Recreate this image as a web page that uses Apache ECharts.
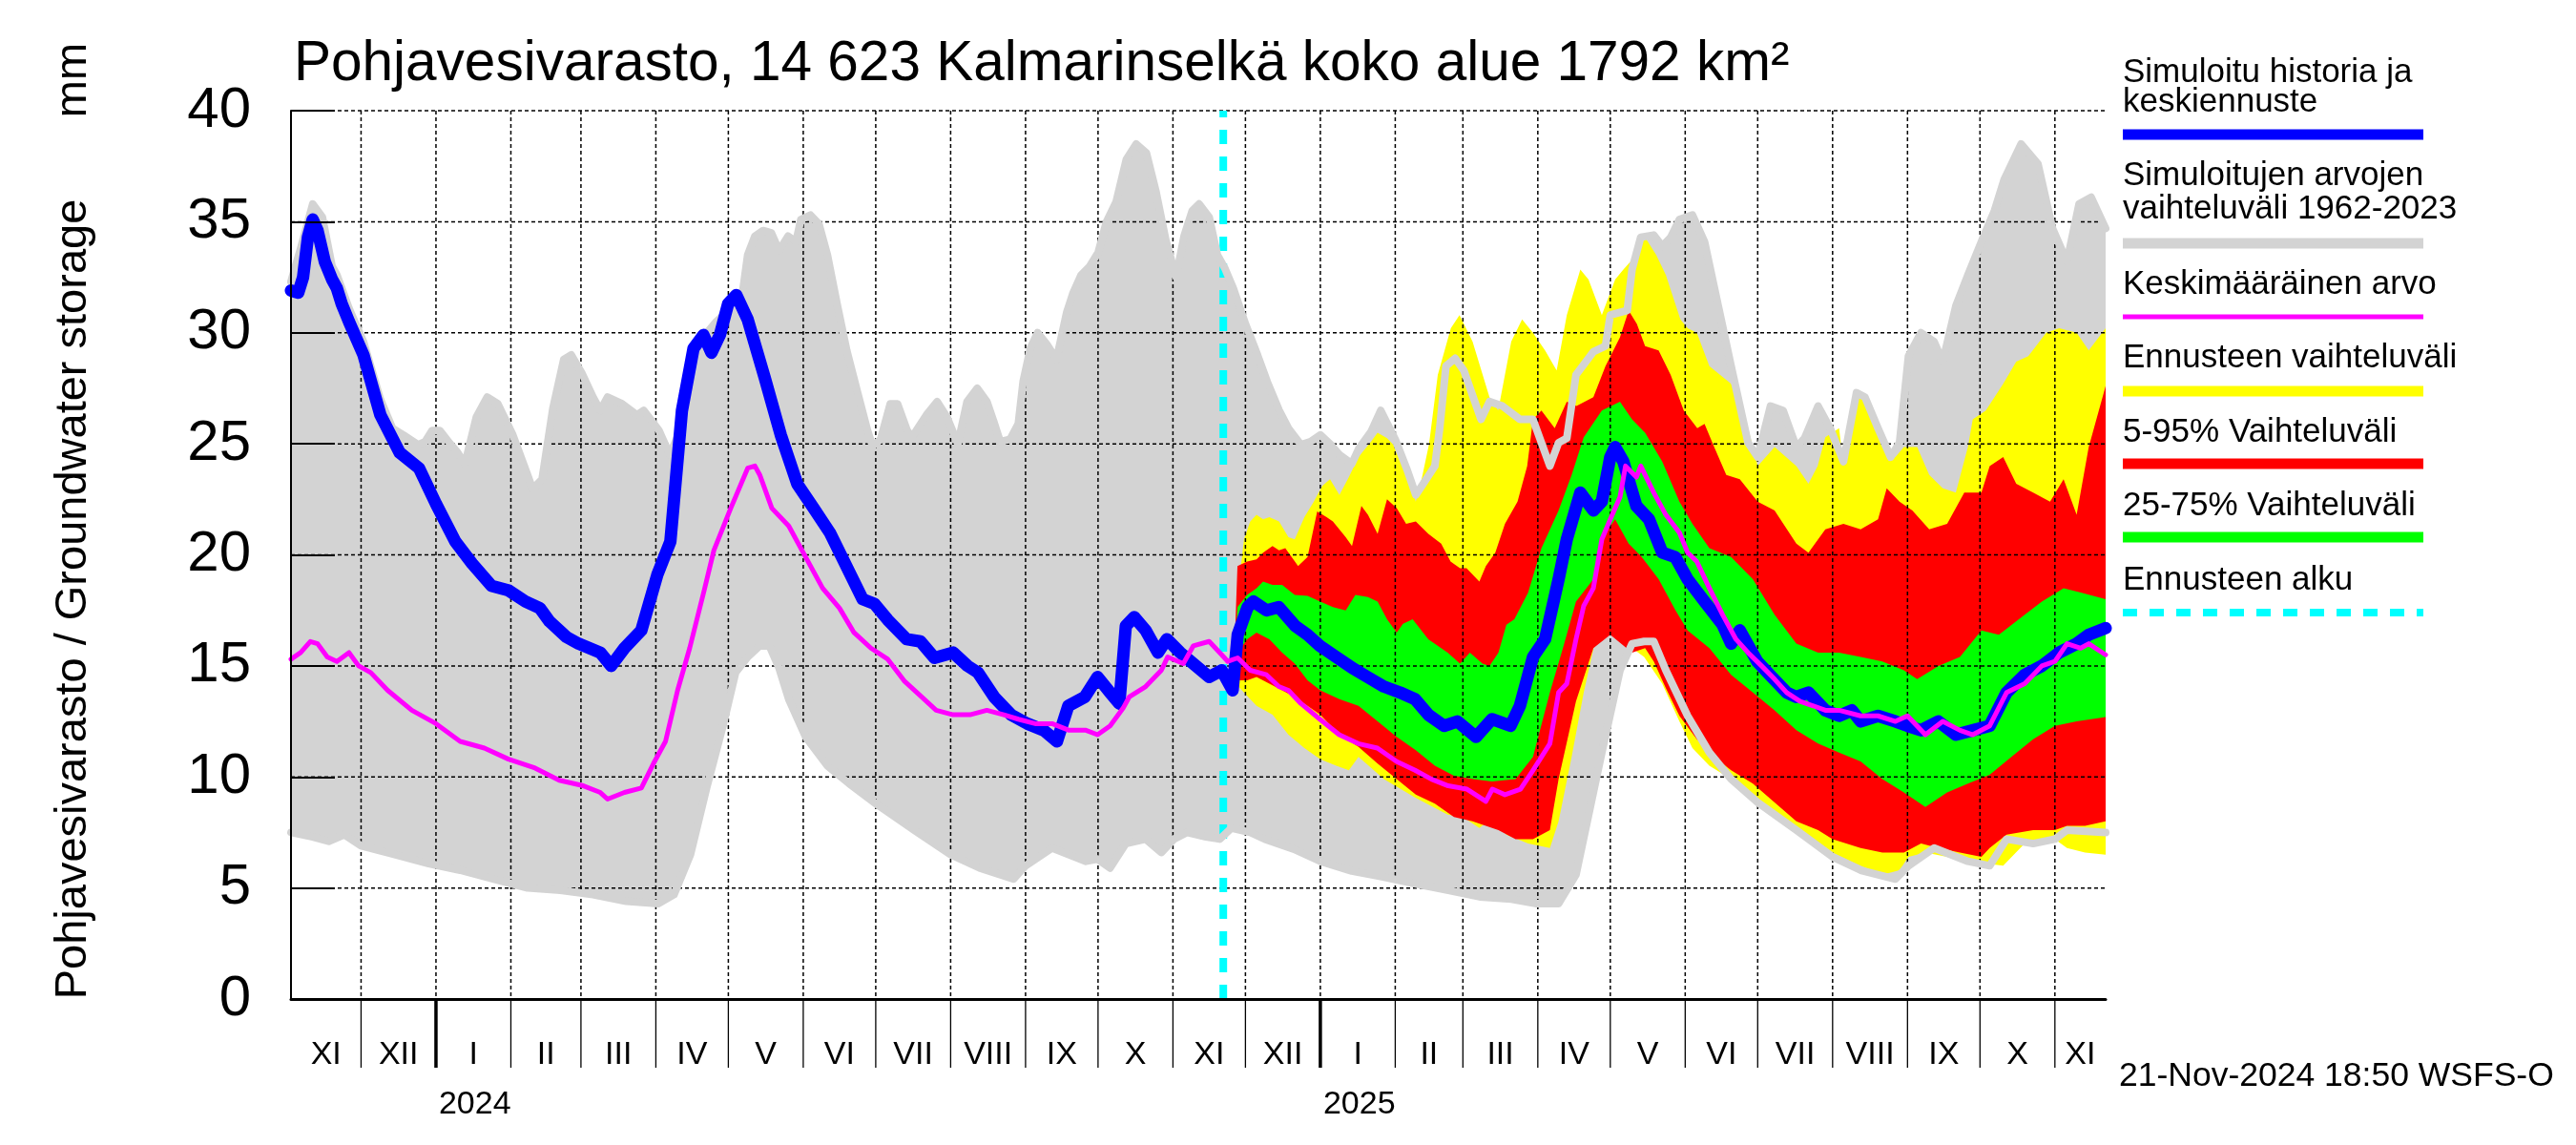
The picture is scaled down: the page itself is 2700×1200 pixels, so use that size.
<!DOCTYPE html>
<html><head><meta charset="utf-8">
<script src="https://cdn.jsdelivr.net/npm/echarts@6/dist/echarts.min.js"></script>
<style>html,body{margin:0;padding:0;background:#fff}#c{width:2700px;height:1200px}</style>
</head><body><div id="c"></div><script>
// ---------- axis / calendar ----------
const axisStartDate = '2023-11-02';
const axisEndDate = '2025-11-22';
const forecastStartDate = '2024-11-21T20:00:00Z';
const monthStarts = ['2023-12-01','2024-01-01','2024-02-01','2024-03-01','2024-04-01','2024-05-01','2024-06-01','2024-07-01','2024-08-01','2024-09-01','2024-10-01','2024-11-01','2024-12-01','2025-01-01','2025-02-01','2025-03-01','2025-04-01','2025-05-01','2025-06-01','2025-07-01','2025-08-01','2025-09-01','2025-10-01','2025-11-01'];
const monthLabels = ['XI','XII','I','II','III','IV','V','VI','VII','VIII','IX','X','XI','XII','I','II','III','IV','V','VI','VII','VIII','IX','X','XI'];
const yearLabels = [['2024-01-01','2024'],['2025-01-01','2025']];
const yGridValues = [5,10,15,20,25,30,35,40];

// ---------- data: [day offset from axisStartDate, mm] ----------
const simulated = [[0,31.9],[3,31.8],[5,32.5],[7,34.3],[9,35.1],[11,34.6],[14,33.2],[17,32.4],[19,32.0],[21,31.3],[24,30.5],[30,29.0],[37,26.3],[45,24.6],[53,23.9],[60,22.3],[68,20.6],[75,19.6],[83,18.6],[90,18.4],[97,17.9],[103,17.6],[107,17.0],[114,16.3],[119,16.0],[128,15.6],[132.5,15.0],[138,15.8],[145,16.6],[151.6,19.1],[157,20.6],[161.8,26.5],[166.6,29.3],[170.7,29.9],[174,29.1],[177.5,29.9],[180.9,31.3],[184.3,31.7],[189,30.6],[196,28.0],[202.7,25.4],[209.5,23.2],[216.3,22.1],[223,21.0],[229.8,19.5],[236.6,18.0],[241.4,17.8],[247,17.07],[254.8,16.2],[260.5,16.1],[266.3,15.36],[274,15.6],[280,15.0],[284.3,14.7],[291,13.6],[298,12.8],[304.7,12.4],[311.5,12.1],[317,11.6],[321.7,13.2],[328.5,13.6],[333.8,14.5],[339,13.8],[342.8,13.3],[345.5,16.8],[349,17.2],[353.7,16.6],[358.8,15.6],[362.5,16.2],[368,15.6],[373.4,15.1],[380,14.5],[385.2,14.8],[389.7,13.9],
  [391.8,16.4],[395.9,17.65],[398.3,17.9],[403.7,17.5],[408.8,17.65],[415.6,16.8],[420.7,16.4],[425.8,15.9],[432.6,15.4],[439.3,14.9],[445.5,14.5],[452.3,14.07],[459,13.8],[465.2,13.5],[470.7,12.8],[477.2,12.3],[482.7,12.5],[490.4,11.8],[497,12.6],[504.7,12.3],[508.6,13.2],[514,15.4],[519,16.2],[524.6,18.9],[528,20.7],[533.6,22.8],[539,22.0],[542.5,22.4],[546,24.4],[548,24.85],[551.4,24.2],[556.8,22.2],[562,21.6],[567.5,20.1],[572.9,19.9],[578,18.9],[585,17.9],[592.5,16.85],[596,16.0],[599.6,16.6],[606.8,15.2],[612,14.6],[619,13.8],[622.9,13.6],[628,13.8],[635,13.0],[640.7,12.75],[646,13.0],[649.6,12.5],[656.8,12.75],[664,12.5],[669,12.3],[674.6,12.1],[681.8,12.5],[689,11.9],[696,12.1],[703,12.3],[710,13.8],[717.5,14.6],[724.6,15.0],[731.8,15.6],[739,16.0],[744,16.4],[751,16.7]];

const meanValue = [[0,15.3],[4,15.6],[8,16.1],[11,16.0],[15,15.4],[19,15.2],[24,15.6],[28,15.0],[33,14.7],[40,13.9],[50,13.0],[60,12.4],[70,11.6],[80,11.3],[90,10.8],[101,10.4],[111,9.85],[121,9.6],[128,9.3],[131,9.0],[138,9.3],[145,9.5],[150,10.6],[155,11.6],[160,13.9],[165,15.8],[171,18.4],[175,20.2],[182,22.1],[189,23.9],[192,24.0],[194,23.6],[199,22.1],[206,21.3],[213,19.9],[220,18.5],[227,17.6],[233,16.5],[240,15.8],[247,15.3],[254,14.3],[261,13.6],[267,13.0],[274,12.8],[281,12.8],[288,13.0],[295,12.8],[301,12.6],[308,12.4],[315,12.4],[322,12.1],[329,12.1],[333.8,11.9],[339,12.3],[344.4,13.1],[346.9,13.6],[353.7,14.07],[360.2,14.8],[362.8,15.4],[369.3,15.1],[373.4,15.9],[380,16.1],[385.2,15.5],[387.7,15.2],[391.8,15.36],[397,14.8],[403.7,14.6],[408.8,14.07],[412.8,13.9],[418,13.3],[425.8,12.6],[433.8,11.9],[441.7,11.5],[449.6,11.3],[457.5,10.7],[465.2,10.3],[472,9.9],[478.9,9.6],[486.7,9.45],[494.5,8.9],[497.2,9.45],[502.4,9.2],[508.8,9.45],[514,10.3],[521,11.5],[524.6,13.8],[528,14.2],[531.8,16.2],[535,17.7],[539,18.5],[542.5,20.7],[546,21.6],[550,22.6],[552.3,24.0],[556.8,23.5],[558.6,24.0],[564,22.8],[569,21.8],[574.6,21.0],[578,20.1],[581.8,19.7],[587,18.5],[592.5,17.3],[598,16.2],[603,15.6],[608.6,15.0],[614,14.4],[619,13.8],[624.6,13.4],[630,13.2],[635,13.0],[640.7,13.0],[649.6,12.75],[656.8,12.75],[664,12.5],[669,12.75],[676.4,11.9],[683.6,12.5],[690.7,12.1],[696,11.9],[703,12.3],[710,13.8],[717.5,14.2],[724.6,15.0],[730,15.2],[735,16.0],[740.7,15.8],[744,16.0],[751,15.5]];

const histMax = [[0,32.3],[4,33.8],[9,35.8],[13,35.2],[17,33.0],[19,32.6],[24,31.1],[30,29.6],[37,27.0],[42,25.7],[46.5,25.4],[52.6,24.96],[55.5,25.1],[58.4,25.6],[61.6,25.6],[65.9,25.0],[69,24.6],[72,24.1],[76.7,26.2],[81.2,27.1],[85.6,26.8],[91.8,25.4],[97.9,23.6],[100,22.96],[103.9,23.4],[108.4,26.6],[112.9,28.8],[116,29.0],[120.3,28.2],[125,27.1],[128,26.5],[131,27.1],[137,26.8],[143.2,26.3],[146,26.5],[152.3,25.6],[156.8,24.5],[161,25.6],[165,27.5],[168,29.5],[171.4,29.9],[176,30.5],[181,31.0],[187,31.9],[189,33.5],[192,34.35],[195.4,34.6],[198.8,34.5],[202,33.7],[205.7,34.35],[209,34.1],[211,35.1],[215,35.3],[218.5,34.9],[222,33.5],[226,31.3],[230,29.2],[234.5,27.3],[238.6,25.6],[240.7,24.9],[244,25.2],[248,26.8],[251,26.8],[255,25.6],[257,25.3],[260.6,25.9],[263,26.3],[267.4,26.9],[271.5,26.2],[276,25.0],[279.8,26.9],[284,27.5],[288,26.9],[290.7,26.05],[293.5,25.1],[297.6,25.2],[301,25.9],[303,27.8],[306,29.3],[309,30.0],[312.7,29.5],[316.8,28.8],[321,30.9],[323.7,31.8],[327,32.6],[330.6,33.0],[334,33.6],[337.5,35.0],[341.5,35.9],[345.7,37.8],[349.8,38.5],[354,38.1],[358,36.35],[362,34.2],[366.3,32.5],[369.6,34.35],[373,35.5],[375.8,35.8],[380,35.2],[383.4,33.5],[386.5,32.9],[390,32.0],[395,30.4],[400,29.0],[404,27.8],[409,26.5],[412.8,25.7],[418,24.96],[422,25.1],[426,25.4],[430,25.0],[434,24.5],[439,24.1],[442,24.8],[447,25.55],[451,26.5],[457,25.2],[462,23.8],[465.5,22.7],[468,23.1],[473.4,24.0],[475.4,25.7],[478,28.5],[481.8,28.85],[485.4,28.3],[492.5,26.1],[496,26.9],[501.4,26.7],[508.6,26.1],[514,26.1],[521,24.0],[524.6,25.05],[528,25.25],[531.8,28.1],[539,29.15],[544,29.4],[546,30.8],[553,31.0],[555,32.85],[558.6,34.3],[564,34.4],[567.5,33.9],[571,34.3],[574.6,35.1],[580,35.3],[585,34.1],[590.7,31.2],[596,28.5],[603,25.05],[607,24.4],[612.3,26.7],[617.5,26.5],[623,24.85],[626.4,25.25],[632,26.7],[637,25.7],[642.5,24.2],[647.9,27.3],[651.4,27.1],[656.8,25.7],[662,24.4],[665.7,25.05],[669.4,28.95],[674.6,30.0],[680,29.6],[683.6,28.7],[689,31.2],[694,32.6],[699.6,34.1],[705,35.5],[709,36.9],[716,38.5],[723,37.6],[729,34.7],[735,33.2],[740,35.8],[745,36.1],[751,34.7]];

const histMin = [[0,7.5],[9,7.3],[15.6,7.1],[22,7.4],[29,6.9],[43,6.5],[57,6.1],[70,5.8],[84,5.4],[97.9,5.0],[111.5,4.9],[125,4.7],[138.7,4.4],[152,4.3],[158.5,4.7],[165.3,6.5],[172,9.5],[179,12.4],[184,14.7],[189,15.4],[194,15.9],[198,15.9],[202,14.9],[206,13.5],[213,11.8],[222,10.5],[231,9.7],[242,8.8],[258,7.6],[273,6.5],[285,5.9],[299,5.4],[304,6.0],[315,6.8],[329,6.2],[333.8,6.3],[339,5.9],[345.5,7.0],[353.7,7.2],[360.2,6.6],[365.4,7.2],[370.8,7.5],[378.7,7.3],[384.4,7.2],[389.2,7.7],[397,7.5],[403,7.2],[415,6.75],[426,6.2],[439,5.76],[452,5.5],[465,5.2],[479,4.9],[492,4.6],[505,4.5],[515,4.3],[524.6,4.3],[531.8,5.6],[539,9.3],[542.5,11.1],[550,14.8],[555,16.0],[560,16.1],[564,16.1],[569,14.8],[578,12.75],[587,11.1],[596,9.9],[607,8.85],[623,7.6],[638,6.4],[649.6,5.8],[664,5.4],[669.4,6.0],[680,6.8],[694,6.2],[703,6.0],[710,7.2],[721,7.0],[730,7.2],[735,7.6],[751,7.5]];

const forecastMax = [[390,14.2],[391,16.5],[392.4,18.8],[394.4,20.7],[397,21.5],[399.6,21.8],[402.3,21.6],[404.9,21.7],[408.9,21.5],[412.8,20.8],[415.4,20.7],[419.4,21.7],[423.3,22.4],[426.8,23.1],[430,23.4],[433.9,22.7],[437.8,23.5],[441.8,24.4],[447,25.1],[449.7,25.5],[453.6,25.25],[457.6,24.8],[461.5,23.8],[465.5,22.4],[468.1,23.5],[471,25.0],[474.6,28.1],[480,30.2],[483.6,30.8],[489,29.6],[496,27.1],[499.6,26.5],[505,29.6],[509.5,30.6],[514,30.0],[519,29.2],[523.8,28.3],[528,30.8],[533.6,32.85],[537,32.4],[542.5,30.8],[548,32.4],[551.4,32.85],[556.8,33.5],[560.4,34.3],[565,33.5],[569,32.6],[575,30.6],[578,30.2],[581.8,30.0],[587,28.5],[596,27.7],[603,25.7],[607,24.0],[614,24.85],[623,24.0],[628,23.2],[631.8,24.0],[635,25.3],[640.7,25.7],[642.5,24.0],[647.9,27.1],[649.6,27.3],[655,26.1],[660.4,24.85],[664,24.4],[667.5,24.85],[673,24.85],[678,23.6],[683.6,23.0],[689,22.8],[694,24.85],[696,26.1],[701.4,26.5],[708.6,27.7],[714,28.7],[719,28.95],[726.4,30.0],[731.8,30.2],[739,30.0],[744,29.2],[751,30.2]];
const forecastMin = [[390,14.2],[391,14.2],[394.4,13.8],[399.6,13.2],[406.2,12.8],[412.8,11.9],[419.4,11.3],[426,10.8],[432.6,10.5],[437.8,10.3],[441.8,10.9],[445,10.6],[452.3,9.9],[465.5,9.05],[478.7,8.3],[485,8.2],[491.8,7.7],[495.8,8.05],[499.7,7.9],[503,7.4],[512,7.0],[521,6.8],[524.6,8.0],[530,10.9],[535,13.8],[540.7,16.6],[546,16.6],[550,16.4],[555,15.8],[560,15.4],[567.5,14.2],[574.6,12.5],[580,11.3],[587,10.5],[596,9.9],[605,9.1],[614,8.2],[623,7.6],[632,7.0],[638,6.6],[649.6,6.0],[658.6,5.6],[665.7,5.8],[669.4,6.4],[676.4,6.6],[685.4,6.4],[692.5,6.2],[701.4,6.1],[708.6,6.0],[717.5,7.0],[724.6,7.2],[730,7.2],[735,6.8],[742.5,6.6],[751,6.5]];
const p95 = [[390,14.3],[391.7,19.5],[395.7,19.7],[399.6,19.8],[402.3,20.1],[406.2,20.4],[408.9,20.2],[411.5,20.3],[416.8,19.5],[420.7,19.9],[424.7,21.95],[428.6,21.7],[431.2,21.5],[436.5,20.8],[439.1,20.4],[443,22.2],[445.7,21.8],[449.7,20.95],[453.6,22.5],[457.6,22.1],[461.5,21.4],[465.5,21.5],[470.7,20.95],[476,20.5],[479.9,19.7],[483.8,19.4],[486.5,19.4],[491.8,18.8],[494.5,19.5],[498.4,20.1],[502.4,21.4],[507.6,22.4],[511.6,24.0],[514,26.1],[517.5,26.5],[523,25.7],[528,26.9],[532,26.7],[539,27.1],[544,28.5],[550,29.8],[553.6,31.0],[557,30.4],[560.4,29.4],[566,29.2],[571,28.1],[576.4,26.5],[582,25.7],[585,25.9],[589,24.85],[594,23.6],[599.6,23.4],[607,22.4],[614,22.0],[623,20.5],[628,20.1],[635,21.15],[642.5,21.4],[649.6,21.15],[656.8,21.6],[660.4,23.0],[665.7,22.4],[671,22.0],[678,21.15],[685.4,21.4],[692.5,22.8],[699.6,22.8],[703,24.0],[708.6,24.4],[714,23.2],[721,22.8],[728,22.4],[733.6,23.4],[739,21.8],[744,24.85],[751,27.6]];
const p5 = [[390,14.3],[391.7,14.35],[395.7,14.35],[399.6,14.5],[404.9,14.2],[410.2,13.9],[415.4,13.6],[420.7,13.2],[426,12.8],[433.9,11.9],[441.8,11.35],[449.7,10.6],[457.6,9.9],[465.5,9.2],[473.4,8.8],[481.3,8.2],[489,8.0],[499.7,7.6],[506.8,7.2],[514,7.2],[521,7.6],[524.6,9.9],[531.8,13.4],[539,15.8],[546,16.4],[555,15.6],[560.4,15.8],[564,15.2],[569,14.0],[574.6,12.75],[581.8,11.7],[589,10.9],[596,10.3],[605,9.7],[614,8.85],[623,8.0],[632,7.6],[638,7.2],[649.6,6.8],[658.6,6.6],[667.5,6.6],[674.6,7.0],[681.8,6.8],[690.7,6.6],[699.6,6.4],[703,6.8],[710,7.4],[721,7.6],[730,7.6],[735,7.8],[742.5,7.8],[751,8.0]];
const p75 = [[390,14.3],[391.7,17.65],[395.7,18.2],[399.6,18.5],[402.3,18.8],[406.2,18.65],[410.2,18.65],[415.4,18.2],[420.7,18.15],[426,17.9],[431.2,17.65],[436.5,17.5],[440.5,18.2],[445.7,18.1],[449.7,17.9],[453.6,17.1],[457.6,16.5],[460.2,16.9],[464.2,17.1],[470.7,16.2],[478.7,15.6],[483.8,15.1],[487.9,15.6],[493.1,15.1],[496,15.0],[499.7,15.6],[503,16.85],[506.3,17.1],[512,18.3],[517.5,20.3],[524.6,22.0],[530,23.6],[535,25.3],[542.5,26.5],[550,26.9],[555,26.1],[560.4,25.5],[567.5,24.2],[574.6,22.4],[580,21.4],[587,20.3],[596,19.9],[605,18.9],[614,17.3],[623,16.0],[632,15.6],[640.7,15.6],[649.6,15.4],[658.6,15.2],[667.5,14.8],[673,14.4],[681.8,15.0],[690.7,15.4],[699.6,16.6],[706.8,16.4],[717.5,17.3],[724.6,17.9],[733.6,18.5],[740.7,18.3],[751,18.0]];
const p25 = [[390,14.3],[391.7,15.6],[395.7,16.2],[399.6,16.5],[404.9,16.2],[410.2,15.6],[415.4,15.1],[420.7,14.35],[426,13.9],[433.9,13.5],[441.8,13.2],[449.7,12.5],[457.6,11.8],[465.5,11.2],[473.4,10.5],[481.3,10.05],[489.2,9.9],[497,9.8],[506.8,9.9],[514,10.9],[521,13.8],[526.4,15.8],[531.8,17.9],[539,18.9],[544,21.0],[548,21.6],[553.6,20.5],[559,19.9],[566,18.9],[573,17.5],[578,16.6],[587,15.8],[596,14.6],[605,13.8],[614,13.0],[623,12.1],[632,11.5],[640.7,11.1],[649.6,10.7],[658.6,9.9],[667.5,9.3],[676.4,8.65],[685.4,9.3],[694,9.7],[703,10.1],[712,10.9],[721,11.7],[730,12.3],[739,12.5],[751,12.7]];

// ---------- helpers ----------
const DAY = 86400000;
const T = s => Date.parse(s.length > 10 ? s : s + 'T00:00:00Z');
const axisStart = T(axisStartDate), axisEnd = T(axisEndDate);
const toTime = arr => arr.map(p => [axisStart + p[0] * DAY, p[1]]);
const FONT = '"Liberation Sans", Arial, Helvetica, sans-serif';
const C = { gray:'#d3d3d3', yellow:'#ffff00', red:'#ff0000', green:'#00ff00', blue:'#0000ff', magenta:'#ff00ff', cyan:'#00ffff' };

function band(name, upper, lower, color) {
  const up = toTime(upper), lo = toTime(lower).reverse();
  return {
    type: 'custom', name, silent: true, clip: true,
    data: [up[0]], encode: { x: 0, y: 1 },
    renderItem: (params, api) => ({
      type: 'polygon',
      shape: { points: up.concat(lo).map(p => api.coord(p)) },
      style: { fill: color }
    })
  };
}
function line(name, arr, color, width, extra) {
  return Object.assign({
    type: 'line', name, data: toTime(arr), showSymbol: false, symbol: 'none', silent: true,
    lineStyle: { color, width, join: 'round', cap: 'round' }
  }, extra || {});
}

const monthIntervals = monthLabels.map((lab, i) => [
  i === 0 ? axisStart : T(monthStarts[i - 1]),
  i === monthLabels.length - 1 ? axisEnd : T(monthStarts[i]), 0]);

const series = [
  band('Simuloitujen arvojen vaihteluväli 1962-2023', histMax, histMin, C.gray),
  band('Ennusteen vaihteluväli', forecastMax, forecastMin, C.yellow),
  band('5-95% Vaihteluväli', p95, p5, C.red),
  band('25-75% Vaihteluväli', p75, p25, C.green),
  { // horizontal dashed grid
    type: 'custom', silent: true, clip: false,
    data: yGridValues.map(v => [axisStart, v]), encode: { x: 0, y: 1 },
    renderItem: (params, api) => {
      const a = api.coord([axisStart, api.value(1)]), b = api.coord([axisEnd, api.value(1)]);
      return { type: 'line', shape: { x1: a[0], y1: a[1], x2: b[0], y2: b[1] },
        style: { stroke: '#000', lineWidth: 1.5, lineDash: [4, 3] } };
    }
  },
  { // vertical month grid + ticks below axis
    type: 'custom', silent: true, clip: false,
    data: monthStarts.map(s => [T(s), 0]), encode: { x: 0, y: 1 },
    renderItem: (params, api) => {
      const b = api.coord([api.value(0), 0]), t = api.coord([api.value(0), 40]);
      const jan = monthStarts[params.dataIndex].slice(5, 7) === '01';
      return { type: 'group', children: [
        { type: 'line', shape: { x1: b[0], y1: t[1], x2: b[0], y2: b[1] }, style: { stroke: '#000', lineWidth: 1.5, lineDash: [4, 3] } },
        { type: 'line', shape: { x1: b[0], y1: b[1], x2: b[0], y2: b[1] + 72 }, style: { stroke: '#000', lineWidth: jan ? 3.5 : 1.3 } }
      ] };
    }
  },
  { // month labels
    type: 'custom', silent: true, clip: false,
    data: monthIntervals, encode: { x: [0, 1], y: 2 },
    renderItem: (params, api) => {
      const a = api.coord([api.value(0), 0]), b = api.coord([api.value(1), 0]);
      return { type: 'text', style: { text: monthLabels[params.dataIndex], x: (a[0] + b[0]) / 2, y: a[1] + 59,
        align: 'center', verticalAlign: 'middle', font: '34px ' + FONT, fill: '#000' } };
    }
  },
  { // year labels
    type: 'custom', silent: true, clip: false,
    data: yearLabels.map(y => [T(y[0]), 0]), encode: { x: 0, y: 1 },
    renderItem: (params, api) => {
      const a = api.coord([api.value(0), 0]);
      return { type: 'text', style: { text: yearLabels[params.dataIndex][1], x: a[0] + 3, y: a[1] + 111,
        align: 'left', verticalAlign: 'middle', font: '34px ' + FONT, fill: '#000' } };
    }
  },
  { type: 'line', name: 'Ennusteen alku', showSymbol: false, symbol: 'none', silent: true,
    data: [[T(forecastStartDate), 0], [T(forecastStartDate), 40]],
    lineStyle: { color: C.cyan, width: 8, type: [15, 13] } },
  line('histMaxEdge', histMax, C.gray, 8),
  line('histMinEdge', histMin, C.gray, 8),
  line('Simuloitu historia ja keskiennuste', simulated, C.blue, 13),
  line('Keskimääräinen arvo', meanValue, C.magenta, 5)
];

// ---------- legend & texts (graphic) ----------
const LX = 2225, LX2 = 2540;
const legendItems = [
  { lines: ['Simuloitu historia ja', 'keskiennuste'], ty: [76, 107], ly: 141, color: C.blue, w: 11 },
  { lines: ['Simuloitujen arvojen', 'vaihteluväli 1962-2023'], ty: [184, 219], ly: 255, color: C.gray, w: 11 },
  { lines: ['Keskimääräinen arvo'], ty: [298], ly: 332, color: C.magenta, w: 5 },
  { lines: ['Ennusteen vaihteluväli'], ty: [375], ly: 410, color: C.yellow, w: 11 },
  { lines: ['5-95% Vaihteluväli'], ty: [453], ly: 486, color: C.red, w: 11 },
  { lines: ['25-75% Vaihteluväli'], ty: [530], ly: 563, color: C.green, w: 11 },
  { lines: ['Ennusteen alku'], ty: [608], ly: 642, color: C.cyan, w: 8, dash: [15, 13] }
];
const graphic = [];
legendItems.forEach(it => {
  it.lines.forEach((t, i) => graphic.push({ type: 'text', silent: true,
    style: { text: t, x: LX, y: it.ty[i], font: '35px ' + FONT, fill: '#000', align: 'left', verticalAlign: 'middle' } }));
  graphic.push({ type: 'line', silent: true, shape: { x1: LX, y1: it.ly, x2: LX2, y2: it.ly },
    style: { stroke: it.color, lineWidth: it.w, lineDash: it.dash || null } });
});
graphic.push(
  { type: 'text', silent: true, style: { text: 'Pohjavesivarasto, 14 623 Kalmarinselkä koko alue 1792 km²', x: 308, y: 68,
    font: '58.5px ' + FONT, fill: '#000', align: 'left', verticalAlign: 'middle' } },
  { type: 'text', silent: true, x: 77, y: 628, rotation: Math.PI / 2,
    style: { text: 'Pohjavesivarasto / Groundwater storage', x: 0, y: 0, font: '47px ' + FONT, fill: '#000', align: 'center', verticalAlign: 'middle' } },
  { type: 'text', silent: true, x: 77, y: 84, rotation: Math.PI / 2,
    style: { text: 'mm', x: 0, y: 0, font: '47px ' + FONT, fill: '#000', align: 'center', verticalAlign: 'middle' } },
  { type: 'text', silent: true, style: { text: '21-Nov-2024 18:50 WSFS-O', x: 2221, y: 1128,
    font: '35.5px ' + FONT, fill: '#000', align: 'left', verticalAlign: 'middle' } }
);

const chart = echarts.init(document.getElementById('c'), null, { renderer: 'canvas', width: 2700, height: 1200 });
chart.setOption({
  animation: false,
  backgroundColor: '#ffffff',
  grid: { left: 305, right: 493, top: 116, bottom: 153, containLabel: false },
  xAxis: { type: 'time', min: axisStart, max: axisEnd, z: 10,
    axisLine: { show: true, onZero: false, lineStyle: { color: '#000', width: 3 } },
    axisTick: { show: false }, axisLabel: { show: false }, splitLine: { show: false } },
  yAxis: { type: 'value', min: 0, max: 40, interval: 5, z: 10,
    axisLine: { show: true, lineStyle: { color: '#000', width: 2 } },
    axisTick: { show: true, inside: true, length: 46, lineStyle: { color: '#000', width: 2 } },
    axisLabel: { color: '#000', fontSize: 60, fontFamily: FONT, margin: 42 },
    splitLine: { show: false } },
  series,
  graphic
});
</script></body></html>
